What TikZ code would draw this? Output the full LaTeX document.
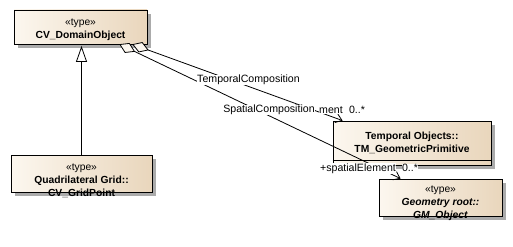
\documentclass[tikz,border=0pt]{standalone}
\usepackage{fontspec}
\setmainfont{Liberation Sans}
\usetikzlibrary{arrows.meta,calc,shadows}
\definecolor{boxlight}{HTML}{FCF7EF}
\definecolor{boxdark}{HTML}{E9D6BC}
\definecolor{boxshade}{HTML}{ABABAB}
\begin{document}
\begin{tikzpicture}[x=1pt,y=-1pt,
  font=\fontsize{10.3}{13}\selectfont,
  classbox/.style={draw=black, line width=0.8pt, left color=boxlight, right color=boxdark,
    inner sep=0pt,
    general shadow={fill=boxshade, shadow xshift=4pt, shadow yshift=-4pt}},
  classtext/.style={align=center, inner sep=0pt},
  assoc/.style={draw=black, line width=0.8pt},
  opentip/.style={-{Straight Barb[length=6pt,width=9pt]}},
  aggr/.style={draw=black, line width=0.8pt, fill=boxlight},
  gen/.style={draw=black, line width=0.8pt, -{Triangle[length=16pt,width=11pt,fill=white]}},
  lbl/.style={fill=white, inner sep=0.5pt, font=\fontsize{10.6}{13}\selectfont}
]
\fill[white] (0,0) rectangle (513,246);
\useasboundingbox (0,0) rectangle (513,246);

% class boxes
\node[classbox, minimum width=133pt, minimum height=34pt] (dom) at (80.5,27) {};
\node[classbox, minimum width=141pt, minimum height=37pt] (quad) at (81.5,173.5) {};
\node[classbox, minimum width=158pt, minimum height=44pt] (tm) at (412,143) {};
\node[classbox, minimum width=123pt, minimum height=37pt] (gm) at (440.5,197.5) {};

% empty attribute compartment of the temporal class
\draw[line width=0.8pt] ($(tm.south west)+(0,-5)$) -- ($(tm.south east)+(0,-5)$);

% class names
\node[classtext] (domtxt) at (80.5,30) {«type»\\\textbf{CV\_DomainObject}};
\node[classtext] (quadtxt) at (81.5,181) {«type»\\\textbf{Quadrilateral Grid::}\\\textbf{CV\_GridPoint}};
\node[classtext] (tmtxt) at (412,142.5) {\textbf{Temporal Objects::}\\\textbf{TM\_GeometricPrimitive}};
\node[classtext] (gmtxt) at (440.5,203.5) {«type»\\\textbf{\textit{Geometry root::}}\\\textbf{\textit{GM\_Object}}};

% generalization
\coordinate (gentip) at ($(dom.south)+(1,1.5)$);
\draw[gen] (quad.north) -- (gentip);

% aggregation ends
\coordinate (tmtip) at ($(tm.north west)+(10,0)$);
\coordinate (gmtip) at ($(gm.north west)+(22,0)$);

\coordinate (sb) at (120,44.5);
\coordinate (sf) at ($(sb)!16pt!(gmtip)$);
\coordinate (sm) at ($(sb)!0.5!(sf)$);
\coordinate (tb) at (133,44.5);
\coordinate (tf) at ($(tb)!16pt!(tmtip)$);
\coordinate (tmid) at ($(tb)!0.5!(tf)$);

\draw[assoc, opentip] (sf) -- (gmtip);
\draw[assoc, opentip] (tf) -- (tmtip);
\draw[aggr] (sb) -- ($(sm)!5pt!90:(sf)$) -- (sf) -- ($(sm)!5pt!-90:(sf)$) -- cycle;
\draw[aggr] (tb) -- ($(tmid)!5pt!90:(tf)$) -- (tf) -- ($(tmid)!5pt!-90:(tf)$) -- cycle;

% connector labels
\node[lbl] (tclbl) at (248.5,80) {TemporalComposition};
\node[lbl] (sclbl) at (269,110) {SpatialComposition};
\node[lbl] (tmrole) at (331,110) {ment};
\node[lbl] (tmmult) at (357,110) {0..*};
\node[lbl] (gmrole) at (358,168.5) {+spatialElement};
\node[lbl] (gmmult) at (410,168) {0..*};
\end{tikzpicture}
\end{document}
